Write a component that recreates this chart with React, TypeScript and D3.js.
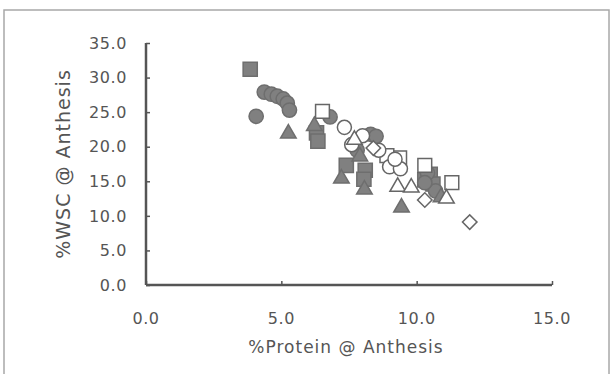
import React, { useEffect, useRef } from 'react';
import * as d3 from 'd3';

// [protein %, WSC %] pairs
const filledSquares = [
  [3.85, 31.2], [6.3, 22.0], [6.35, 20.8], [7.4, 17.3], [8.1, 16.6],
  [8.05, 15.3], [10.5, 16.0], [10.3, 15.2], [10.6, 14.6]
];
const filledCircles = [
  [4.37, 27.9], [4.63, 27.6], [4.85, 27.3], [5.07, 26.9], [5.22, 26.3],
  [5.3, 25.3], [4.07, 24.4], [6.8, 24.3], [8.3, 21.8], [8.5, 21.5],
  [7.8, 19.5], [10.4, 16.2], [10.7, 13.6], [10.3, 14.8]
];
const filledTriangles = [
  [5.26, 21.9], [6.22, 23.0], [7.22, 15.4], [8.07, 13.8], [9.44, 11.2],
  [10.9, 12.7], [7.9, 18.6]
];
const openSquares = [
  [6.52, 25.1], [9.37, 18.4], [10.3, 17.3], [11.3, 14.8], [8.9, 18.7]
];
const openCircles = [
  [7.33, 22.8], [8.0, 21.6], [7.6, 20.3], [9.0, 17.1], [9.4, 16.8],
  [9.2, 18.2], [8.6, 19.5]
];
const openTriangles = [
  [9.3, 14.2], [9.8, 14.1], [11.1, 12.5], [7.7, 21.0]
];
const openDiamonds = [
  [10.3, 12.3], [11.96, 9.1], [8.4, 19.8]
];

const xTicks = [0, 5, 10, 15];
const yTicks = [0, 5, 10, 15, 20, 25, 30, 35];

export default function App() {
  const ref = useRef<SVGSVGElement | null>(null);

  useEffect(() => {
    const svg = d3.select(ref.current);
    svg.selectAll('*').remove();

    const x = d3.scaleLinear().domain([0, 15]).range([146, 552]);
    const y = d3.scaleLinear().domain([0, 35]).range([285, 43]);

    const axisColor = '#555';
    const textColor = '#555';
    const font = '"DejaVu Sans", Verdana, sans-serif';

    // outer frame
    svg.append('rect')
      .attr('x', 4).attr('y', 10).attr('width', 605).attr('height', 372)
      .attr('fill', 'none').attr('stroke', '#a8a8a8').attr('stroke-width', 1.5);

    // y axis
    const yAxis = svg.append('g')
      .attr('transform', `translate(${x(0)},0)`)
      .call(d3.axisRight(y).tickValues(yTicks).tickSize(4).tickFormat(() => ''));
    yAxis.select('.domain').attr('stroke', axisColor).attr('stroke-width', 2.5)
      .attr('d', `M0,${y(35)}V${y(0)}`);
    yAxis.selectAll('.tick line').attr('stroke', axisColor).attr('stroke-width', 1.5);

    svg.append('g').selectAll('text')
      .data(yTicks)
      .enter()
      .append('text')
      .attr('x', 127)
      .attr('y', d => y(d))
      .attr('dy', '0.36em')
      .attr('text-anchor', 'end')
      .style('font-family', font)
      .style('font-size', '16px')
      .style('letter-spacing', '0.6px')
      .attr('fill', textColor)
      .text(d => d.toFixed(1));

    // x axis
    const xAxis = svg.append('g')
      .attr('transform', `translate(0,${y(0)})`)
      .call(d3.axisTop(x).tickValues(xTicks).tickSize(4).tickFormat(() => ''));
    xAxis.select('.domain').attr('stroke', axisColor).attr('stroke-width', 2.5)
      .attr('d', `M${x(0)},0H${x(15)}`);
    xAxis.selectAll('.tick line').attr('stroke', axisColor).attr('stroke-width', 1.5);

    svg.append('g').selectAll('text')
      .data(xTicks)
      .enter()
      .append('text')
      .attr('x', d => x(d))
      .attr('y', 318)
      .attr('dy', '0.36em')
      .attr('text-anchor', 'middle')
      .style('font-family', font)
      .style('font-size', '16px')
      .style('letter-spacing', '0.6px')
      .attr('fill', textColor)
      .text(d => d.toFixed(1));

    svg.append('text')
      .attr('x', 346).attr('y', 347).attr('dy', '0.36em')
      .attr('text-anchor', 'middle')
      .style('font-family', font).style('font-size', '17px')
      .style('letter-spacing', '1px')
      .attr('fill', textColor)
      .text('%Protein @ Anthesis');

    svg.append('text')
      .attr('transform', 'translate(63,164) rotate(-90)')
      .attr('dy', '0.36em')
      .attr('text-anchor', 'middle')
      .style('font-family', font).style('font-size', '19px')
      .style('letter-spacing', '1px')
      .attr('fill', textColor)
      .text('%WSC @ Anthesis');

    const series = [
      { data: filledSquares, type: d3.symbolSquare, size: 200, filled: true, rot: 0 },
      { data: filledCircles, type: d3.symbolCircle, size: 160, filled: true, rot: 0 },
      { data: filledTriangles, type: d3.symbolTriangle, size: 105, filled: true, rot: 0 },
      { data: openSquares, type: d3.symbolSquare, size: 190, filled: false, rot: 0 },
      { data: openCircles, type: d3.symbolCircle, size: 155, filled: false, rot: 0 },
      { data: openTriangles, type: d3.symbolTriangle, size: 105, filled: false, rot: 0 },
      { data: openDiamonds, type: d3.symbolSquare, size: 105, filled: false, rot: 45 }
    ];

    series.forEach(s => {
      const sym = d3.symbol().type(s.type).size(s.size);
      svg.append('g').selectAll('path')
        .data(s.data)
        .enter()
        .append('path')
        .attr('d', sym() as string)
        .attr('transform', d => `translate(${x(d[0])},${y(d[1])}) rotate(${s.rot})`)
        .attr('fill', s.filled ? '#808080' : 'white')
        .attr('stroke', s.filled ? '#6e6e6e' : '#666')
        .attr('stroke-width', 1.5);
    });
  }, []);

  return (
    <svg ref={ref} width={612} height={374}
      style={{ position: 'absolute', left: 0, top: 0, background: 'white' }} />
  );
}
